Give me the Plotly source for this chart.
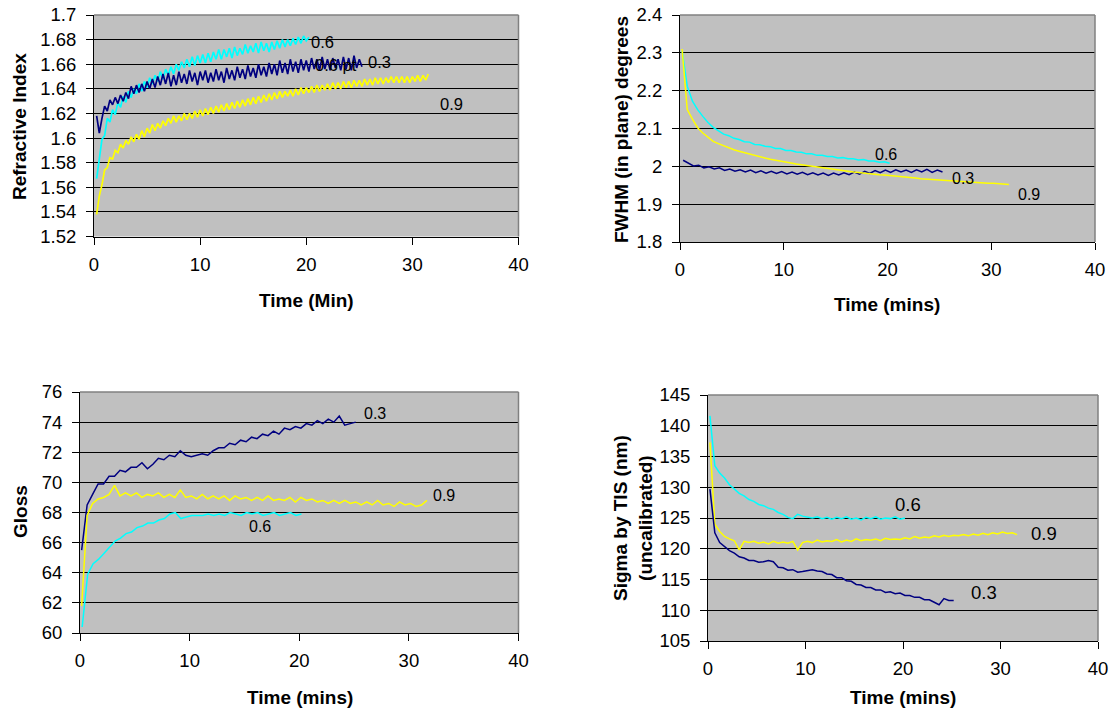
import plotly.graph_objects as go

W, H = 1112, 710
NAVY = "#000080"
CYAN = "#00FFFF"
YELLOW = "#FFFF00"
BG = "#C0C0C0"
FONT = "Liberation Sans, Arial, sans-serif"

# ---------------- Data ----------------
# Chart 1: Refractive Index vs Time (Min); samples every 0.25 min from t=0.25
RI_T0, RI_DT = 0.25, 0.25
ri_06 = [1.567, 1.584, 1.599, 1.602, 1.616, 1.613, 1.623, 1.619, 1.629, 1.625,
         1.634, 1.629, 1.638, 1.633, 1.640, 1.636, 1.644, 1.638, 1.646, 1.641,
         1.649, 1.644, 1.651, 1.646, 1.654, 1.648, 1.656, 1.651, 1.658, 1.652,
         1.660, 1.655, 1.662, 1.657, 1.664, 1.658, 1.666, 1.659, 1.667, 1.661,
         1.668, 1.661, 1.669, 1.662, 1.670, 1.664, 1.672, 1.664, 1.672, 1.666,
         1.673, 1.665, 1.674, 1.667, 1.673, 1.668, 1.676, 1.669, 1.675, 1.670,
         1.677, 1.669, 1.678, 1.671, 1.677, 1.670, 1.678, 1.672, 1.679, 1.673,
         1.680, 1.674, 1.680, 1.675, 1.681, 1.676, 1.682, 1.677, 1.683, 1.679,
         1.682]
ri_03 = [1.618, 1.604, 1.616, 1.626, 1.622, 1.631, 1.627, 1.633, 1.628, 1.635,
         1.630, 1.637, 1.632, 1.642, 1.636, 1.643, 1.637, 1.644, 1.638, 1.646,
         1.640, 1.648, 1.641, 1.650, 1.643, 1.652, 1.644, 1.653, 1.642, 1.651,
         1.643, 1.654, 1.645, 1.652, 1.644, 1.655, 1.646, 1.653, 1.643, 1.654,
         1.647, 1.655, 1.645, 1.653, 1.646, 1.656, 1.647, 1.654, 1.645, 1.657,
         1.648, 1.655, 1.647, 1.658, 1.649, 1.656, 1.648, 1.659, 1.650, 1.657,
         1.649, 1.660, 1.651, 1.658, 1.650, 1.661, 1.652, 1.660, 1.651, 1.663,
         1.653, 1.661, 1.652, 1.664, 1.654, 1.662, 1.653, 1.664, 1.655, 1.663,
         1.654, 1.665, 1.656, 1.664, 1.655, 1.666, 1.656, 1.664, 1.655, 1.665,
         1.657, 1.664, 1.655, 1.666, 1.656, 1.665, 1.655, 1.667, 1.657, 1.664,
         1.658]
ri_09 = [1.538, 1.553, 1.562, 1.574, 1.576, 1.584, 1.583, 1.590, 1.588, 1.595,
         1.592, 1.598, 1.595, 1.601, 1.597, 1.603, 1.599, 1.606, 1.601, 1.608,
         1.604, 1.611, 1.606, 1.612, 1.608, 1.614, 1.610, 1.616, 1.612, 1.618,
         1.613, 1.618, 1.614, 1.620, 1.615, 1.620, 1.616, 1.622, 1.617, 1.623,
         1.618, 1.624, 1.619, 1.625, 1.620, 1.626, 1.621, 1.627, 1.622, 1.628,
         1.623, 1.629, 1.624, 1.630, 1.625, 1.631, 1.626, 1.632, 1.627, 1.633,
         1.628, 1.634, 1.629, 1.635, 1.630, 1.636, 1.631, 1.637, 1.632, 1.638,
         1.633, 1.638, 1.634, 1.639, 1.634, 1.640, 1.635, 1.641, 1.636, 1.641,
         1.637, 1.642, 1.637, 1.643, 1.638, 1.643, 1.639, 1.644, 1.639, 1.645,
         1.640, 1.645, 1.640, 1.646, 1.641, 1.646, 1.641, 1.647, 1.642, 1.647,
         1.642, 1.648, 1.643, 1.648, 1.643, 1.649, 1.644, 1.649, 1.644, 1.649,
         1.645, 1.650, 1.645, 1.650, 1.645, 1.650, 1.645, 1.650, 1.645, 1.650,
         1.646, 1.651, 1.646, 1.651, 1.647, 1.652]

# Chart 2: FWHM (in plane) degrees; samples every 0.5 min
FW_DT = 0.5
fw_06_t0 = 0.2
fw_06 = [2.306, 2.212, 2.172, 2.150, 2.132, 2.116, 2.103, 2.095, 2.085, 2.081,
         2.074, 2.071, 2.065, 2.064, 2.058, 2.057, 2.053, 2.052, 2.047, 2.047,
         2.042, 2.042, 2.038, 2.037, 2.033, 2.033, 2.029, 2.029, 2.026, 2.026,
         2.022, 2.023, 2.020, 2.020, 2.017, 2.018, 2.014, 2.014, 2.011, 2.012,
         2.008]
fw_09_t0 = 0.2
fw_09 = [2.310, 2.150, 2.125, 2.102, 2.088, 2.078, 2.066, 2.060, 2.054, 2.049,
         2.044, 2.040, 2.036, 2.032, 2.028, 2.025, 2.022, 2.019, 2.016, 2.014,
         2.011, 2.009, 2.006, 2.004, 2.002, 2.000, 1.998, 1.996, 1.994, 1.992,
         1.990, 1.988, 1.987, 1.985, 1.984, 1.982, 1.981, 1.979, 1.978, 1.977,
         1.976, 1.975, 1.973, 1.972, 1.970, 1.969, 1.967, 1.966, 1.965, 1.964,
         1.963, 1.962, 1.962, 1.960, 1.959, 1.958, 1.958, 1.957, 1.956, 1.955,
         1.955, 1.954, 1.953, 1.952]
fw_03_t0 = 0.3
fw_03 = [2.016, 2.008, 2.001, 2.003, 1.996, 1.999, 1.993, 1.996, 1.989, 1.993,
         1.987, 1.991, 1.985, 1.990, 1.983, 1.988, 1.982, 1.987, 1.981, 1.986,
         1.980, 1.985, 1.979, 1.984, 1.978, 1.983, 1.977, 1.982, 1.976, 1.982,
         1.977, 1.983, 1.978, 1.985, 1.979, 1.987, 1.981, 1.989, 1.983, 1.990,
         1.984, 1.991, 1.985, 1.990, 1.984, 1.991, 1.985, 1.992, 1.984, 1.990,
         1.985]

# Chart 3: Gloss; samples every 0.5 min
GL_DT = 0.5
gl_03_t0 = 0.15
gl_03 = [65.5, 68.5, 69.2, 69.9, 69.9, 70.4, 70.4, 70.8, 70.7, 71.0,
         71.0, 71.3, 70.9, 71.2, 71.6, 71.5, 71.8, 71.7, 72.1, 71.8,
         71.7, 71.8, 71.9, 71.8, 72.1, 72.3, 72.3, 72.6, 72.5, 72.8,
         72.7, 73.0, 72.9, 73.2, 73.1, 73.4, 73.2, 73.6, 73.5, 73.7,
         73.6, 73.9, 73.8, 74.1, 73.9, 74.2, 74.0, 74.4, 73.8, 73.9,
         74.0]
gl_09_t0 = 0.15
gl_09 = [61.8, 67.8, 68.6, 68.9, 69.0, 69.2, 69.8, 69.1, 69.3, 69.1,
         69.3, 69.0, 69.2, 69.1, 69.3, 69.0, 69.2, 69.0, 69.5, 69.0,
         69.1, 68.9, 69.2, 68.9, 69.1, 68.9, 69.1, 68.8, 69.1, 68.9,
         69.0, 68.8, 69.0, 68.8, 69.1, 68.8, 68.9, 68.8, 69.0, 68.7,
         69.0, 68.8, 68.9, 68.7, 68.8, 68.6, 68.8, 68.6, 68.8, 68.6,
         68.7, 68.5, 68.7, 68.5, 68.8, 68.5, 68.6, 68.4, 68.7, 68.5,
         68.6, 68.4, 68.5, 68.8]
gl_06_t0 = 0.2
gl_06 = [60.4, 63.9, 64.6, 64.9, 65.3, 65.7, 66.1, 66.3, 66.6, 66.7,
         67.0, 67.1, 67.3, 67.3, 67.5, 67.6, 67.9, 68.0, 67.6, 67.7,
         67.8, 67.8, 67.8, 67.9, 67.8, 67.9, 67.8, 68.0, 67.9, 67.8,
         68.0, 67.9, 68.0, 67.8, 67.9, 68.0, 67.8, 67.9, 68.0, 67.8,
         67.9]

# Chart 4: Sigma by TIS (nm); samples every 0.5 min from t=0.2
SG_DT = 0.5
SG_T0 = 0.2
sg_06 = [141.6, 133.5, 132.3, 131.5, 130.4, 129.7, 129.0, 128.6, 128.0, 127.7,
         127.2, 127.0, 126.6, 126.4, 125.9, 125.6, 125.1, 124.9, 125.6, 125.3,
         125.1, 125.0, 125.2, 124.9, 125.1, 124.8, 125.1, 124.9, 125.2, 124.8,
         125.0, 124.7, 125.1, 124.9, 125.2, 124.8, 125.0, 124.9, 125.2, 124.8,
         125.0]
sg_09 = [137.3, 124.0, 122.8, 122.0, 121.6, 121.3, 119.8, 121.2, 121.0, 121.2,
         120.9, 121.1, 120.8, 121.2, 120.9, 121.1, 120.9, 121.2, 119.8, 121.0,
         121.2, 121.0, 121.4, 121.1, 121.3, 121.2, 121.5, 121.1, 121.4, 121.2,
         121.6, 121.3, 121.5, 121.4, 121.6, 121.3, 121.7, 121.5, 121.6, 121.5,
         121.8, 121.6, 122.0, 121.7, 121.9, 121.8, 122.1, 121.9, 122.2, 122.0,
         122.2, 122.1, 122.3, 122.1, 122.4, 122.2, 122.5, 122.3, 122.6, 122.4,
         122.7, 122.5, 122.6, 122.3]
sg_03 = [129.7, 122.6, 121.0, 120.4, 119.7, 119.3, 118.7, 118.5, 118.1, 118.1,
         117.8, 117.9, 118.1, 117.9, 117.0, 116.9, 116.5, 116.6, 116.2, 116.3,
         116.4, 116.6, 116.4, 116.3, 115.9, 115.8, 115.3, 115.3, 114.8, 114.7,
         114.2, 114.1, 113.7, 113.7, 113.3, 113.3, 112.9, 113.0, 112.7, 112.8,
         112.4, 112.4, 112.1, 112.1, 111.7, 111.7, 111.3, 110.9, 111.9, 111.6,
         111.6]

# Tick labels
x_ticks = [0, 10, 20, 30, 40]
ri_ticks = [1.52, 1.54, 1.56, 1.58, 1.6, 1.62, 1.64, 1.66, 1.68, 1.7]
ri_ticktext = ["1.52", "1.54", "1.56", "1.58", "1.6", "1.62", "1.64", "1.66", "1.68", "1.7"]
fw_ticks = [1.8, 1.9, 2.0, 2.1, 2.2, 2.3, 2.4]
fw_ticktext = ["1.8", "1.9", "2", "2.1", "2.2", "2.3", "2.4"]
gl_ticks = [60, 62, 64, 66, 68, 70, 72, 74, 76]
sg_ticks = [105, 110, 115, 120, 125, 130, 135, 140, 145]


def times(t0, dt, n):
    return [round(t0 + dt * i, 4) for i in range(n)]


fig = go.Figure()

def add_line(vals, t0, dt, color, ax, width):
    xa = "x" if ax == 1 else f"x{ax}"
    ya = "y" if ax == 1 else f"y{ax}"
    fig.add_trace(go.Scatter(x=times(t0, dt, len(vals)), y=vals, mode="lines",
                             line=dict(color=color, width=width),
                             xaxis=xa, yaxis=ya, showlegend=False,
                             hoverinfo="skip"))

# chart 1
add_line(ri_09, RI_T0, RI_DT, YELLOW, 1, 1.7)
add_line(ri_06, RI_T0, RI_DT, CYAN, 1, 1.7)
add_line(ri_03, RI_T0, RI_DT, NAVY, 1, 1.7)
# chart 2
add_line(fw_06, fw_06_t0, FW_DT, CYAN, 2, 1.5)
add_line(fw_03, fw_03_t0, FW_DT, NAVY, 2, 1.5)
add_line(fw_09, fw_09_t0, FW_DT, YELLOW, 2, 1.5)
# chart 3
add_line(gl_03, gl_03_t0, GL_DT, NAVY, 3, 1.5)
add_line(gl_09, gl_09_t0, GL_DT, YELLOW, 3, 1.5)
add_line(gl_06, gl_06_t0, GL_DT, CYAN, 3, 1.5)
# chart 4
add_line(sg_06, SG_T0, SG_DT, CYAN, 4, 1.5)
add_line(sg_09, SG_T0, SG_DT, YELLOW, 4, 1.5)
add_line(sg_03, SG_T0, SG_DT, NAVY, 4, 1.5)

# plot areas in pixels: left, right, top, bottom
boxes = {
    1: (94, 518.5, 15, 236.5),
    2: (680, 1095, 15, 242),
    3: (80, 518.5, 392, 633),
    4: (708, 1098, 395, 641),
}
yranges = {1: [1.52, 1.7], 2: [1.8, 2.4], 3: [60, 76], 4: [105, 145]}
yticks = {1: (ri_ticks, ri_ticktext), 2: (fw_ticks, fw_ticktext),
          3: (gl_ticks, [str(v) for v in gl_ticks]),
          4: (sg_ticks, [str(v) for v in sg_ticks])}

tickfont = dict(family=FONT, size=18.5, color="black")
layout = dict(width=W, height=H, template="none",
              margin=dict(l=0, r=0, t=0, b=0, pad=0, autoexpand=False),
              paper_bgcolor="white", plot_bgcolor=BG, showlegend=False)
shapes = []
for k, (l, r, t, b) in boxes.items():
    xs = "xaxis" if k == 1 else f"xaxis{k}"
    ys = "yaxis" if k == 1 else f"yaxis{k}"
    yid = "y" if k == 1 else f"y{k}"
    xid = "x" if k == 1 else f"x{k}"
    layout[xs] = dict(domain=[l / W, r / W], anchor=yid, range=[0, 40],
                      tickvals=x_ticks, ticktext=[str(v) for v in x_ticks],
                      showgrid=False, zeroline=False, showline=True,
                      linecolor="black", linewidth=1, ticks="outside",
                      ticklen=7, tickcolor="black", tickfont=tickfont,
                      ticklabelstandoff=4, fixedrange=True, automargin=False)
    tv, tt = yticks[k]
    layout[ys] = dict(domain=[1 - b / H, 1 - t / H], anchor=xid,
                      range=yranges[k], tickvals=tv, ticktext=tt,
                      showgrid=True, gridcolor="black", gridwidth=1,
                      zeroline=False, showline=True, linecolor="black",
                      linewidth=1, ticks="outside", ticklen=7,
                      tickcolor="black", tickfont=tickfont,
                      ticklabelstandoff=6, fixedrange=True, automargin=False)
    # grey border on top and right edges of the plot area
    shapes.append(dict(type="line", xref="paper", yref="paper",
                       x0=l / W, x1=r / W, y0=1 - t / H, y1=1 - t / H,
                       line=dict(color="#808080", width=1.5), layer="above"))
    shapes.append(dict(type="line", xref="paper", yref="paper",
                       x0=r / W, x1=r / W, y0=1 - t / H, y1=1 - b / H,
                       line=dict(color="#808080", width=1.5), layer="above"))
layout["shapes"] = shapes

ann = []

def title(text, px, py, angle=0, size=19):
    ann.append(dict(text=f"<b>{text}</b>", x=px / W, y=1 - py / H,
                    xref="paper", yref="paper", showarrow=False,
                    textangle=angle, xanchor="center", yanchor="middle",
                    font=dict(family=FONT, size=size, color="black")))

title("Refractive Index", 20, 127, -90)
title("Time (Min)", 306, 300)
title("FWHM (in plane) degrees", 622, 130, -90)
title("Time (mins)", 887, 304)
title("Gloss", 20, 512, -90)
title("Time (mins)", 300, 697)
title("Sigma by TIS (nm)<br>(uncalibrated)", 633, 518, -90)
title("Time (mins)", 903, 697)

def label(text, x, y, ax, size):
    xa = "x" if ax == 1 else f"x{ax}"
    ya = "y" if ax == 1 else f"y{ax}"
    ann.append(dict(text=text, x=x, y=y, xref=xa, yref=ya, showarrow=False,
                    xanchor="center", yanchor="middle",
                    font=dict(family=FONT, size=size, color="black")))

label("0.6", 21.5, 1.678, 1, 16.5)
label("0.6 pt", 22.8, 1.6596, 1, 16.5)
label("0.3", 26.9, 1.6615, 1, 16.5)
label("0.9", 33.7, 1.628, 1, 16.5)
label("0.6", 19.85, 2.031, 2, 16)
label("0.3", 27.25, 1.969, 2, 16)
label("0.9", 33.6, 1.9245, 2, 16)
label("0.3", 26.9, 74.54, 3, 16)
label("0.9", 33.2, 69.16, 3, 16)
label("0.6", 16.4, 67.06, 3, 16)
label("0.6", 20.5, 127.2, 4, 18.5)
label("0.9", 34.45, 122.5, 4, 18.5)
label("0.3", 28.3, 112.85, 4, 18.5)
layout["annotations"] = ann

fig.update_layout(**layout)

POST = ("var gd=document.getElementById('{plot_id}');"
        "gd.style.position='fixed';gd.style.left='0px';gd.style.top='0px';"
        "document.body.style.margin='0px';"
        "document.body.style.overflow='hidden';"
        "document.documentElement.style.overflow='hidden';")
fig.write_html("out.html", config={"displayModeBar": False}, post_script=POST)
